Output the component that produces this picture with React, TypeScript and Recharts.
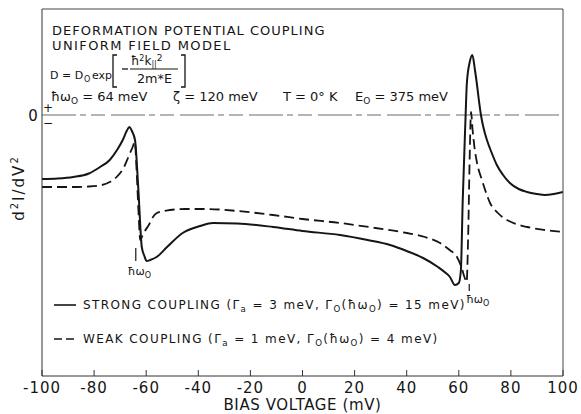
import { Legend, Line, LineChart, ReferenceLine, XAxis, YAxis, Label } from "recharts";

const FONT = "'DejaVu Sans', Verdana, sans-serif";
const INK = "#151515";

// bias voltage (mV) vs d2I/dV2 (arb. units, 0 = the "+/-" line)
const strongBias = [
  -100, -94, -88, -82, -77.7, -74, -71.2, -69, -67.5, -66.4, -65.5, -64.3, -63,
  -61.7, -60.7, -59.8, -58.5, -56, -52, -46, -39.3, -34.4, -25, -11.3, 0, 14.4,
  25, 33.6, 40, 46.3, 52, 55, 56.6, 58.5, 60, 60.8, 61.5, 62.5, 63.1, 64.2, 65.2,
  66.2, 66.9, 67.7, 68.5, 69.5, 70.8, 72.5, 74.6, 77, 79.6, 83, 86.2, 90, 93,
  96.5, 100,
];
const strongD2I = [
  -6.4, -6.35, -6.2, -5.85, -5.2, -4.5, -3.5, -2.5, -1.6, -1.2, -1.6, -2.5, -7.5,
  -13.2, -14.1, -14.6, -14.5, -14.2, -13.2, -11.8, -11.1, -10.8, -10.85, -11.2,
  -11.6, -12.0, -12.5, -13.0, -13.6, -14.3, -15.2, -15.8, -16.2, -17.0, -16.8,
  -15.5, -8.6, -0.9, 3.2, 5.3, 6.0, 4.5, 3.2, 1.5, 0, -1.3, -2.5, -3.7, -5.0,
  -6.0, -6.8, -7.4, -7.7, -7.9, -8.0, -7.9, -7.7,
];

const weakBias = [
  -100, -90, -82, -77, -74, -71, -68.5, -67, -65.2, -64.4, -63.6, -62.9, -62.3,
  -61.5, -60.5, -59, -57.4, -55.9, -53, -50.9, -45, -36.7, -25, -11.3, 0, 14.4,
  28, 40.1, 47, 52.8, 56.5, 59.3, 61, 62.3, 63, 63.6, 64.2, 64.7, 65.3, 66, 67,
  68.9, 70.5, 72, 75, 78.5, 82, 86.2, 93, 100,
];
const weakD2I = [
  -7.2, -7.2, -7.15, -7.0, -6.7, -6.1, -5.2, -4.3, -3.2, -2.7, -6.0, -10.0, -12.5,
  -12.1, -11.6, -11.0, -10.2, -9.8, -9.6, -9.5, -9.4, -9.4, -9.6, -10.0, -10.4,
  -10.8, -11.3, -11.8, -12.2, -12.8, -13.5, -14.2, -15.2, -16.3, -16.7, -12.0,
  -4.0, 0.3, -1.5, -3.2, -4.8, -6.5, -7.8, -8.8, -9.8, -10.5, -10.9, -11.2,
  -11.5, -11.7,
];

const biasTicks = [-100, -80, -60, -40, -20, 0, 20, 40, 60, 80, 100];
const phononEnergy = 64; // meV
const legendRows = [
  { name: "STRONG COUPLING", gammaA: "3", gamma0: "15", dash: undefined },
  { name: "WEAK COUPLING", gammaA: "1", gamma0: "4", dash: "8 4" },
];

const strongData = strongBias.map((v, i) => ({ bias: v, d2i: strongD2I[i] }));
const weakData = weakBias.map((v, i) => ({ bias: v, d2i: weakD2I[i] }));

const sub = { fontSize: "0.72em", verticalAlign: "-0.35em", lineHeight: 0 };

function CouplingLegend() {
  return (
    <div style={{ fontFamily: FONT, fontSize: 12, letterSpacing: 1.4, color: INK }}>
      {legendRows.map((r) => (
        <div key={r.name} style={{ display: "flex", alignItems: "center", height: 34 }}>
          <svg width={26} height={4} style={{ marginRight: 4 }}>
            <line x1={1} x2={23} y1={2} y2={2} stroke={INK} strokeWidth={1.6} strokeDasharray={r.dash} />
          </svg>
          <span style={{ whiteSpace: "nowrap" }}>
            {r.name} (Γ<span style={sub}>a</span> = {r.gammaA} meV, Γ<span style={sub}>O</span>(ħω
            <span style={sub}>O</span>) = {r.gamma0} meV)
          </span>
        </div>
      ))}
    </div>
  );
}

function ZeroMark({ viewBox }: any) {
  if (!viewBox) return null;
  const { x, y } = viewBox;
  return (
    <g fontFamily={FONT} fill={INK}>
      <text x={x - 9} y={y + 5.5} fontSize={15} textAnchor="middle">0</text>
      <text x={x + 6} y={y - 3} fontSize={12} textAnchor="middle">+</text>
      <text x={x + 6} y={y + 12} fontSize={12} textAnchor="middle">−</text>
    </g>
  );
}

function PhononMark({ viewBox, dx, dy }: any) {
  if (!viewBox) return null;
  return (
    <text x={viewBox.x + dx} y={viewBox.y + viewBox.height + dy} fontFamily={FONT} fontSize={11} fill={INK}>
      ħω<tspan dy={3} fontSize={8}>O</tspan>
    </text>
  );
}

function Annotations() {
  const t = { fontFamily: FONT, fill: INK };
  return (
    <svg width={581} height={414} style={{ position: "absolute", left: 0, top: 0, pointerEvents: "none" }}>
      <g {...t} fontSize={13} letterSpacing={1}>
        <text x={52} y={35}>DEFORMATION POTENTIAL COUPLING</text>
        <text x={52} y={50} letterSpacing={1.4}>UNIFORM FIELD MODEL</text>
      </g>
      <g {...t} fontSize={11}>
        <text x={50} y={79}>D = D</text>
        <text x={84} y={82} fontSize={8}>O</text>
        <text x={92} y={79}>exp</text>
        <path d="M117,55 H113 V87 H117 M181,55 H185 V87 H181" fill="none" stroke={INK} strokeWidth={1.3} />
        <line x1={122} x2={128} y1={69} y2={69} stroke={INK} strokeWidth={1.3} />
        <text x={131} y={65} fontSize={12}>
          ħ<tspan dy={-4} fontSize={8}>2</tspan>
          <tspan dy={4}>k</tspan>
          <tspan dy={2} fontSize={8}>||</tspan>
          <tspan dy={-6} fontSize={9}>2</tspan>
        </text>
        <line x1={130} x2={178} y1={69} y2={69} stroke={INK} strokeWidth={1.2} />
        <text x={137} y={83} fontSize={12} textLength={35} lengthAdjust="spacingAndGlyphs">2m*E</text>
      </g>
      <g {...t} fontSize={13}>
        <text x={51} y={101}>
          ħω<tspan dy={3} fontSize={9}>O</tspan>
          <tspan dy={-3}> = 64 meV</tspan>
        </text>
        <text x={173} y={101}>ζ = 120 meV</text>
        <text x={283} y={101}>T = 0° K</text>
        <text x={355} y={101}>
          E<tspan dy={3} fontSize={9}>O</tspan>
          <tspan dy={-3}> = 375 meV</tspan>
        </text>
      </g>
      <text
        {...t}
        x={19}
        y={188}
        fontSize={15}
        letterSpacing={2}
        textAnchor="middle"
        dominantBaseline="central"
        transform="rotate(-90 19 188)"
      >
        d<tspan dy={-5} fontSize={10}>2</tspan>
        <tspan dy={5}>I/dV</tspan>
        <tspan dy={-5} fontSize={10}>2</tspan>
      </text>
    </svg>
  );
}

export default function App() {
  return (
    <div style={{ position: "absolute", left: 0, top: 0, width: 581, height: 414, background: "#fff" }}>
      <LineChart width={581} height={414} margin={{ top: 8, right: 17, bottom: 0, left: 41 }}>
        <XAxis
          dataKey="bias"
          type="number"
          domain={[-100, 100]}
          ticks={biasTicks}
          height={38}
          allowDataOverflow
          stroke="#333"
          tickSize={-6}
          tickMargin={12}
          tickFormatter={(v) => String(v)}
          tick={{ fontFamily: FONT, fontSize: 15, fill: INK, letterSpacing: 1 }}
        >
          <Label
            value="BIAS VOLTAGE (mV)"
            position="insideBottom"
            offset={4}
            style={{ fontFamily: FONT, fontSize: 15, fill: INK, letterSpacing: 0.6 }}
          />
        </XAxis>
        <XAxis
          xAxisId="top"
          orientation="top"
          dataKey="bias"
          type="number"
          domain={[-100, 100]}
          ticks={biasTicks}
          height={1}
          stroke="#444"
          tickSize={-6}
          tick={false}
        />
        <YAxis type="number" domain={[-26.1, 10.6]} width={1} tick={false} tickLine={false} stroke="#333" allowDataOverflow />
        <YAxis yAxisId="right" orientation="right" width={1} tick={false} tickLine={false} stroke="#444" />
        <ReferenceLine y={0} stroke="#6a6a6a" strokeWidth={1} strokeDasharray="34 4 6 5 14 6" label={<ZeroMark />} />
        <ReferenceLine
          segment={[{ x: -phononEnergy, y: -13.3 }, { x: -phononEnergy, y: -14.6 }]}
          stroke={INK}
          strokeWidth={1.2}
          label={<PhononMark dx={-8} dy={14} />}
        />
        <ReferenceLine
          segment={[{ x: phononEnergy, y: -16.9 }, { x: phononEnergy, y: -17.6 }]}
          stroke={INK}
          strokeWidth={1.2}
          label={<PhononMark dx={-3} dy={12} />}
        />
        <Line
          data={weakData}
          dataKey="d2i"
          name="WEAK COUPLING"
          type="monotone"
          stroke={INK}
          strokeWidth={1.8}
          strokeDasharray="10 5"
          dot={false}
          isAnimationActive={false}
        />
        <Line
          data={strongData}
          dataKey="d2i"
          name="STRONG COUPLING"
          type="monotone"
          stroke={INK}
          strokeWidth={2}
          dot={false}
          isAnimationActive={false}
        />
        <Legend
          layout="vertical"
          align="center"
          verticalAlign="middle"
          wrapperStyle={{ left: 53, top: 288, width: 500 }}
          content={() => <CouplingLegend />}
        />
      </LineChart>
      <Annotations />
    </div>
  );
}
